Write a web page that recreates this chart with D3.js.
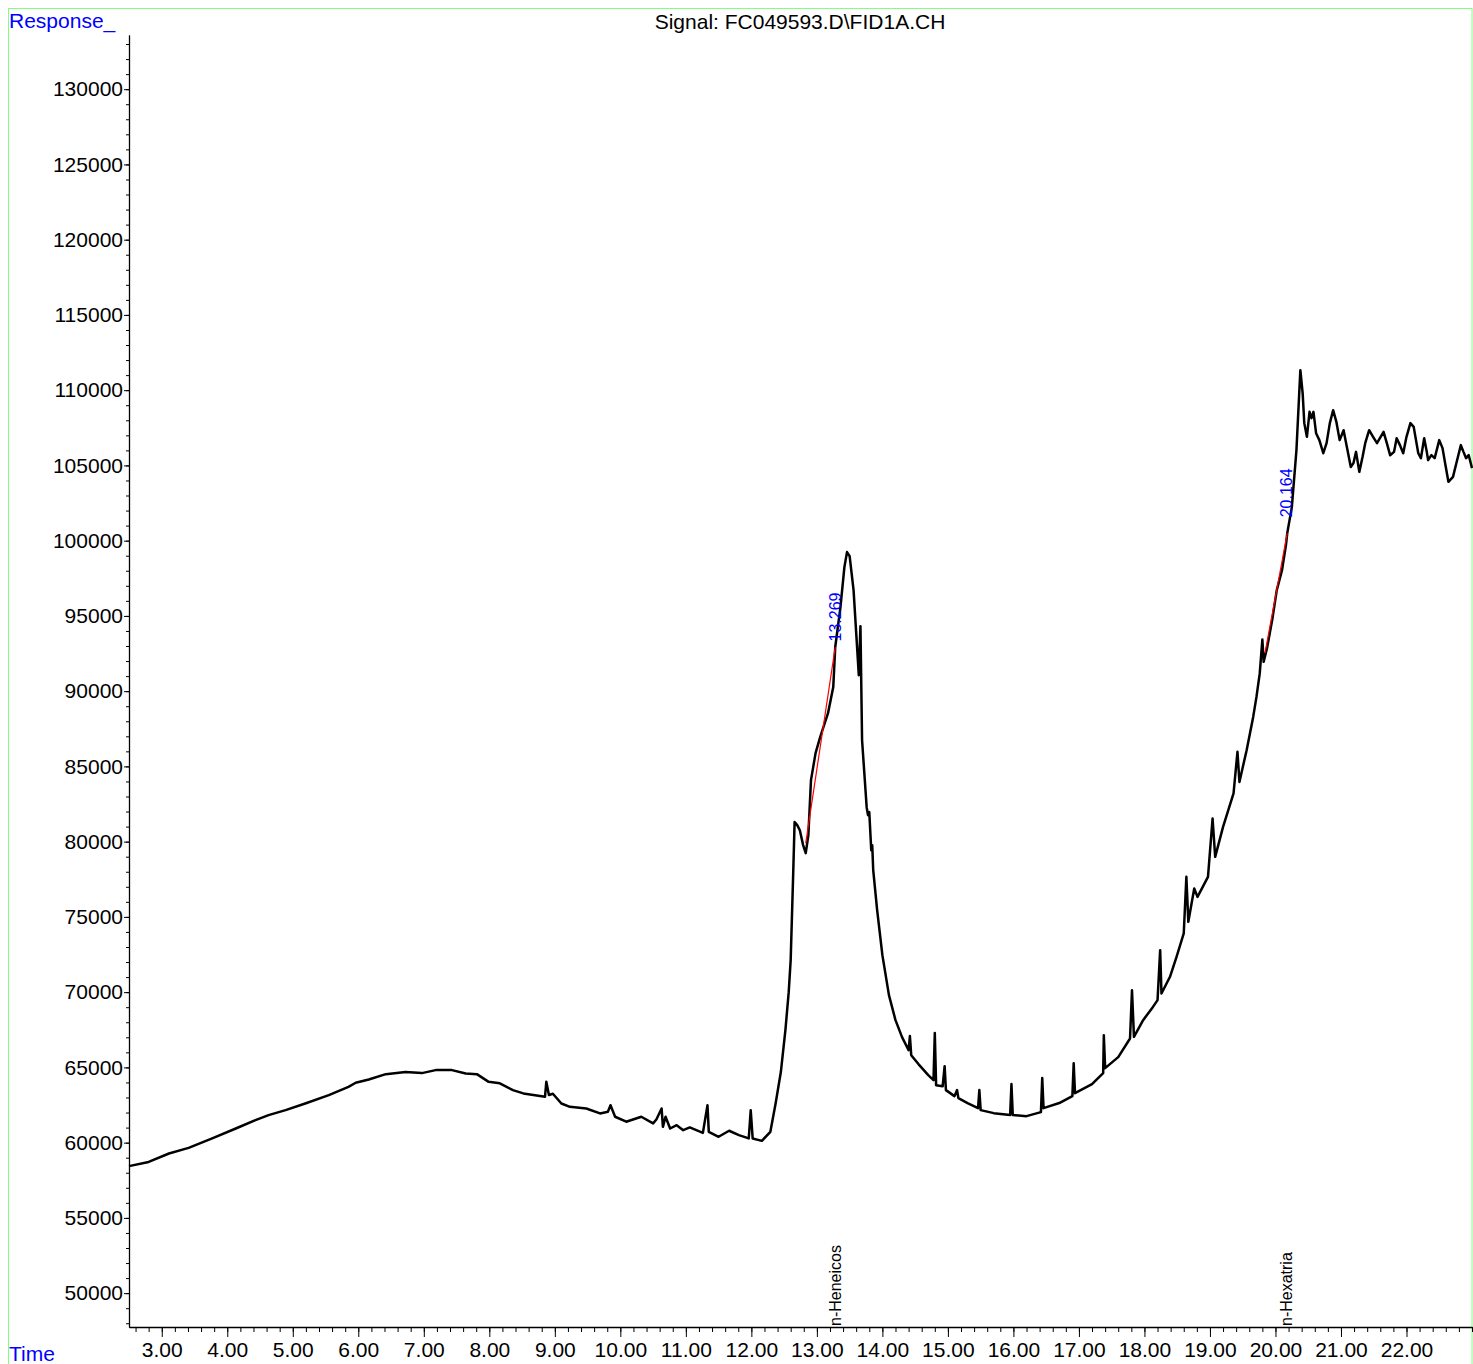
<!DOCTYPE html>
<html>
<head>
<meta charset="utf-8">
<script src="https://cdn.jsdelivr.net/npm/d3@7"></script>
<style>
  body { margin: 0; background: #fff; }
  svg text { font-family: "Liberation Sans", Arial, sans-serif; }
</style>
</head>
<body>
<div id="chart"></div>
<script>
// chromatogram: retention time (min) and response
var signalTime = [
	2.50, 2.80, 3.11, 3.41, 3.77, 4.13, 4.43, 4.63, 4.89, 5.19, 5.55, 5.85, 5.96, 6.16, 6.42, 6.72, 6.97, 7.18, 7.43, 7.64,
	7.81, 7.99, 8.16, 8.36, 8.52, 8.85, 8.87, 8.91, 8.97, 9.10, 9.23, 9.48, 9.69, 9.81, 9.85, 9.92, 10.09, 10.32, 10.50, 10.55,
	10.63, 10.65, 10.69, 10.76, 10.86, 10.96, 11.06, 11.26, 11.33, 11.35, 11.50, 11.66, 11.81, 11.96, 11.99, 12.02, 12.16, 12.29, 12.37, 12.45,
	12.52, 12.57, 12.60, 12.64, 12.66, 12.70, 12.74, 12.79, 12.83, 12.87, 12.91, 12.98, 13.05, 13.17, 13.25, 13.28, 13.36, 13.42, 13.46, 13.50,
	13.56, 13.64, 13.665, 13.69, 13.76, 13.78, 13.80, 13.83, 13.845, 13.86, 13.92, 14.00, 14.10, 14.20, 14.30, 14.40, 14.42, 14.44, 14.55, 14.70,
	14.78, 14.80, 14.82, 14.92, 14.95, 14.97, 15.10, 15.14, 15.16, 15.30, 15.46, 15.48, 15.50, 15.70, 15.95, 15.97, 15.99, 16.20, 16.42, 16.44,
	16.46, 16.70, 16.90, 16.92, 16.94, 17.20, 17.37, 17.38, 17.40, 17.60, 17.78, 17.81, 17.84, 17.98, 18.13, 18.20, 18.24, 18.26, 18.39, 18.49,
	18.60, 18.64, 18.67, 18.76, 18.81, 18.97, 19.04, 19.08, 19.20, 19.36, 19.42, 19.45, 19.56, 19.66, 19.71, 19.76, 19.80, 19.82, 19.87, 19.95,
	20.02, 20.10, 20.16, 20.18, 20.25, 20.32, 20.38, 20.415, 20.44, 20.48, 20.52, 20.55, 20.58, 20.62, 20.67, 20.73, 20.78, 20.83, 20.88, 20.93,
	20.98, 21.04, 21.09, 21.15, 21.19, 21.23, 21.28, 21.33, 21.37, 21.43, 21.49, 21.55, 21.65, 21.70, 21.75, 21.81, 21.85, 21.90, 21.95, 22.00,
	22.06, 22.11, 22.18, 22.22, 22.27, 22.31, 22.33, 22.38, 22.43, 22.50, 22.55, 22.60, 22.64, 22.71, 22.78, 22.83, 22.87, 22.91, 22.95, 23.00
];
var signalResp = [
	58440, 58720, 59280, 59650, 60280, 60940, 61495, 61830, 62160, 62600, 63160, 63710, 63980, 64200, 64550, 64690, 64620, 64820, 64820, 64600,
	64550, 64040, 63940, 63490, 63270, 63050, 64040, 63170, 63250, 62600, 62380, 62270, 61940, 62050, 62490, 61720, 61390, 61720, 61280, 61540,
	62270, 61050, 61720, 60940, 61160, 60830, 61010, 60650, 62490, 60720, 60390, 60790, 60500, 60280, 62160, 60280, 60120, 60720, 62600, 64690,
	67500, 70000, 72130, 78110, 81300, 81100, 80760, 79770, 79240, 80430, 84090, 85880, 86940, 88540, 90270, 92920, 95580, 98240, 99240, 98970,
	96710, 91060, 94320, 86740, 82290, 81760, 81960, 79430, 79770, 78110, 75450, 72460, 69800, 68140, 67010, 66150, 67080, 65810, 65220, 64490,
	64150, 67280, 63820, 63750, 65080, 63490, 63090, 63490, 62960, 62630, 62290, 63490, 62160, 61960, 61830, 63890, 61830, 61760, 62030, 64290,
	62290, 62630, 63090, 65280, 63290, 63890, 64620, 67140, 64950, 65680, 66920, 70130, 67030, 68140, 69020, 69470, 72790, 69910, 71020, 72350,
	73900, 77660, 74670, 76890, 76330, 77660, 81540, 78990, 80980, 83200, 85970, 83970, 86080, 88290, 89620, 91180, 93430, 91950, 92840, 94720,
	96710, 98040, 99700, 100500, 102230, 106000, 111330, 109800, 107810, 106900, 108560, 108140, 108560, 107140, 106680, 105810, 106480, 107810, 108670, 107890,
	106680, 107340, 106230, 104900, 105150, 105900, 104570, 105570, 106480, 107340, 106900, 106480, 107230, 106480, 105680, 105900, 106810, 106350, 105810, 106900,
	107810, 107560, 105810, 105480, 106810, 105900, 105350, 105680, 105480, 106680, 106150, 104900, 103910, 104240, 105480, 106350, 105900, 105480, 105680, 104820
];

// integrated peaks
var peakRT = [13.269, 20.164];
var peakLabelResp = [93300, 101550];
var peakStartRT = [12.83, 19.84];
var peakStartResp = [79900, 92520];
var peakEndRT = [13.28, 20.18];
var peakEndResp = [92920, 100500];
var compoundNames = ["n-Heneicos", "n-Hexatria"];

var majorTimes = d3.range(3, 23, 1);
var minorTimes = d3.range(2.6, 23.01, 0.2);
var majorResp = d3.range(50000, 130001, 5000);
var minorResp = d3.range(48000, 133001, 1000);

var W = 1473, H = 1364;
var svg = d3.select("#chart").append("svg")
	.attr("width", W)
	.attr("height", H);

var x = d3.scaleLinear().domain([2.5, 23.0]).range([129, 1472]);
var y = d3.scaleLinear().domain([47750, 133600]).range([1327, 35]);

// green frame
svg.append("rect")
	.attr("x", 8.5).attr("y", 8.5)
	.attr("width", 1463.5).attr("height", 1400)
	.attr("fill", "none")
	.attr("stroke", "#80ff80")
	.attr("stroke-width", 1);

// y axis (minor then major)
svg.append("g")
	.attr("transform", "translate(129,0)")
	.call(d3.axisLeft(y).tickValues(minorResp).tickSize(3).tickSizeOuter(0).tickFormat(""))
	.call(function (g) { g.selectAll("line, path").attr("stroke", "#000"); });
var yAxis = svg.append("g")
	.attr("transform", "translate(129,0)")
	.call(d3.axisLeft(y).tickValues(majorResp).tickSize(5).tickSizeOuter(0).tickPadding(1).tickFormat(d3.format("d")));
yAxis.select(".domain").attr("stroke-width", 1.3);
yAxis.selectAll("text").attr("font-size", "21px").attr("fill", "#000")
	.attr("font-family", "'Liberation Sans', Arial, sans-serif");

// x axis
svg.append("g")
	.attr("transform", "translate(0,1327)")
	.call(d3.axisBottom(x).tickValues(minorTimes).tickSize(5).tickSizeOuter(0).tickFormat(""))
	.call(function (g) { g.selectAll("line, path").attr("stroke", "#000"); });
var xAxis = svg.append("g")
	.attr("transform", "translate(0,1327)")
	.call(d3.axisBottom(x).tickValues(majorTimes).tickSize(10).tickSizeOuter(0).tickPadding(5).tickFormat(d3.format(".2f")));
xAxis.select(".domain").attr("stroke-width", 1.3);
xAxis.selectAll("text").attr("font-size", "21px").attr("fill", "#000")
	.attr("font-family", "'Liberation Sans', Arial, sans-serif");

// signal trace
var pts = signalTime.map(function (t, i) { return [t, signalResp[i]]; });
var line = d3.line()
	.x(function (d) { return x(d[0]); })
	.y(function (d) { return y(d[1]); });
svg.append("path")
	.datum(pts)
	.attr("d", line)
	.attr("fill", "none")
	.attr("stroke", "#000")
	.attr("stroke-width", 2.5)
	.attr("stroke-linejoin", "round");

// baselines of integrated peaks
peakRT.forEach(function (rt, i) {
	svg.append("line")
		.attr("x1", x(peakStartRT[i])).attr("y1", y(peakStartResp[i]))
		.attr("x2", x(peakEndRT[i])).attr("y2", y(peakEndResp[i]))
		.attr("stroke", "#ff0000")
		.attr("stroke-width", 1.2);

	svg.append("text")
		.attr("transform", "translate(" + (x(rt) + 6) + "," + y(peakLabelResp[i]) + ") rotate(-90)")
		.attr("font-size", "16px")
		.attr("fill", "#0000ff")
		.text(d3.format(".3f")(rt));

	svg.append("text")
		.attr("transform", "translate(" + (x(rt) + 6) + ",1326) rotate(-90)")
		.attr("font-size", "16px")
		.attr("fill", "#000")
		.text(compoundNames[i]);
});

// titles
svg.append("text")
	.attr("x", 800).attr("y", 29)
	.attr("text-anchor", "middle")
	.attr("font-size", "21px")
	.attr("fill", "#000")
	.text("Signal: FC049593.D\\FID1A.CH");

svg.append("text")
	.attr("x", 9).attr("y", 28)
	.attr("font-size", "21px")
	.attr("fill", "#0000ff")
	.text("Response_");

svg.append("text")
	.attr("x", 9).attr("y", 1361)
	.attr("font-size", "21px")
	.attr("fill", "#0000ff")
	.text("Time");
</script>
</body>
</html>
